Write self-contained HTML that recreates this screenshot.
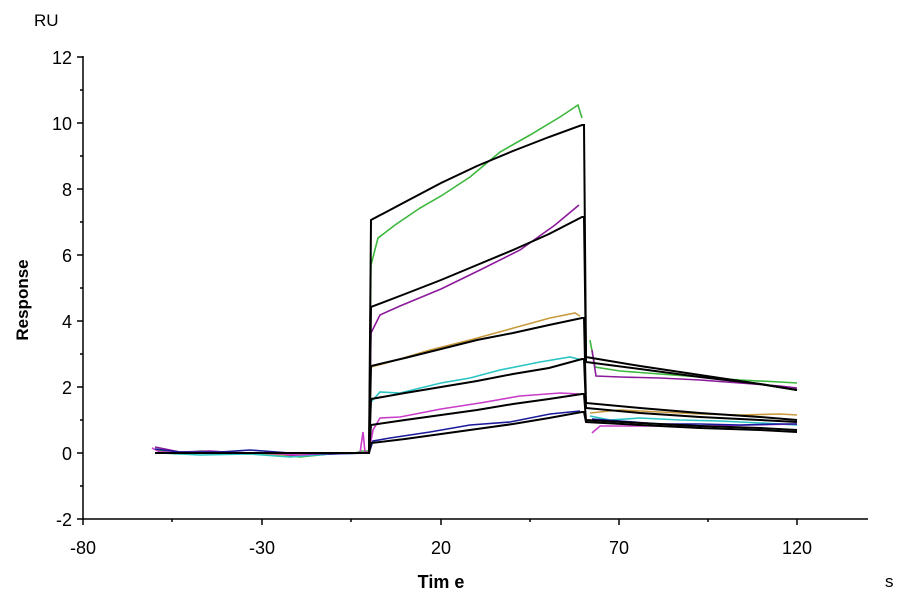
<!DOCTYPE html>
<html><head><meta charset="utf-8"><style>
html,body{margin:0;padding:0;background:#fff;}
svg{display:block;font-family:"Liberation Sans",Arial,sans-serif;}
</style></head><body>
<svg width="900" height="600" viewBox="0 0 900 600">
<g stroke="#000" stroke-width="1.5" fill="none">
<line x1="83" y1="56" x2="83" y2="520"/>
<line x1="83" y1="519" x2="868" y2="519"/>
<line x1="77" y1="57" x2="83" y2="57"/><line x1="80" y1="90" x2="83" y2="90"/>
<line x1="77" y1="123" x2="83" y2="123"/><line x1="80" y1="156" x2="83" y2="156"/>
<line x1="77" y1="189" x2="83" y2="189"/><line x1="80" y1="222" x2="83" y2="222"/>
<line x1="77" y1="255" x2="83" y2="255"/><line x1="80" y1="288" x2="83" y2="288"/>
<line x1="77" y1="321" x2="83" y2="321"/><line x1="80" y1="354" x2="83" y2="354"/>
<line x1="77" y1="387" x2="83" y2="387"/><line x1="80" y1="420" x2="83" y2="420"/>
<line x1="77" y1="453" x2="83" y2="453"/><line x1="80" y1="486" x2="83" y2="486"/>
<line x1="77" y1="519" x2="83" y2="519"/>
<line x1="83" y1="519" x2="83" y2="525"/><line x1="172" y1="519" x2="172" y2="522"/>
<line x1="262" y1="519" x2="262" y2="525"/><line x1="351" y1="519" x2="351" y2="522"/>
<line x1="441" y1="519" x2="441" y2="525"/><line x1="530" y1="519" x2="530" y2="522"/>
<line x1="619" y1="519" x2="619" y2="525"/><line x1="708" y1="519" x2="708" y2="522"/>
<line x1="797" y1="519" x2="797" y2="525"/>
</g>
<g font-size="18" fill="#000" text-anchor="end">
<text x="72" y="64">12</text><text x="72" y="130">10</text><text x="72" y="196">8</text>
<text x="72" y="262">6</text><text x="72" y="328">4</text><text x="72" y="394">2</text>
<text x="72" y="460">0</text><text x="72" y="526">-2</text>
</g>
<g font-size="18" fill="#000" text-anchor="middle">
<text x="83" y="554">-80</text><text x="262" y="554">-30</text><text x="441" y="554">20</text>
<text x="619" y="554">70</text><text x="797" y="554">120</text>
</g>
<text x="34" y="26" font-size="17">RU</text>
<text x="885" y="587" font-size="17">s</text>
<text x="441" y="588" font-size="18" font-weight="bold" text-anchor="middle">Tim e</text>
<text transform="translate(28,300) rotate(-90)" font-size="17" font-weight="bold" text-anchor="middle">Response</text>

<g fill="none" stroke-width="1.6">
<polyline stroke="#3cb83c" points="155,449 175,454 200,451 225,452 250,453 275,454 300,457 330,454 355,453 362,451 369,451 371,265 378,238 395,225 420,208 441,196 470,177 500,152 530,135 560,117 578,105 582,118"/>
<polyline stroke="#3cb83c" points="590,340 595,367 620,371 660,374 700,377 740,380 780,382 797,383"/>
<polyline stroke="#8b1a9b" points="155,447 180,452 210,451 240,453 270,454 300,456 330,454 360,453 369,452 371,333 380,315 400,306 441,289 480,270 520,250 555,225 579,205"/>
<polyline stroke="#8b1a9b" points="592,350 596,376 620,377 660,378 700,380 740,383 780,386 797,388"/>
<polyline stroke="#c89a3c" points="160,452 220,453 280,455 340,453 369,453 371,367 390,362 430,350 470,340 510,329 550,318 575,313 580,316"/>
<polyline stroke="#c89a3c" points="590,413 620,410 660,412 700,414 740,415 780,414 797,415"/>
<polyline stroke="#29c4c4" points="160,453 200,455 250,454 290,457 330,454 369,453 371,402 380,392 400,393 441,383 470,378 500,370 540,362 570,357 582,360"/>
<polyline stroke="#29c4c4" points="590,416 610,420 640,418 680,420 720,421 760,423 797,425"/>
<polyline stroke="#c93cc9" points="152,448 160,452 200,452 260,453 300,455 340,453 360,453 363,432 365,452 369,452 373,430 380,418 400,417 441,409 480,403 520,396 560,393 580,394"/>
<polyline stroke="#c93cc9" points="592,433 600,426 630,426 670,426 710,426 750,425 797,424"/>
<polyline stroke="#1a1a9b" points="155,449 180,452 220,452 250,450 290,453 330,454 369,453 373,441 390,438 430,432 470,425 510,422 550,414 580,411"/>
<polyline stroke="#1a1a9b" points="592,419 620,421 660,424 700,424 740,425 780,424 797,424"/>
</g>
<g fill="none" stroke="#000" stroke-width="2">
<polyline points="155,453 369,453 371,220 405,202 441,183 477,166 513,151 549,137 582,125 584,125 586,357 640,366 700,375 760,384 797,390"/>
<polyline points="369,453 371,307 405,294 441,280 477,265 513,250 549,234 582,217 584,217 586,362 640,369 700,377 760,384 797,390"/>
<polyline points="369,453 371,366 405,358 441,349 477,340 513,333 549,325 582,318 584,318 586,403 640,408 700,413 760,417 797,420"/>
<polyline points="369,453 371,399 405,393 441,387 477,381 513,374 549,368 582,359 584,359 586,408 640,413 700,417 760,420 797,422"/>
<polyline points="369,453 371,425 405,420 441,415 477,410 513,404 549,399 582,394 584,394 586,420 640,423 700,426 760,428 797,430"/>
<polyline points="369,453 371,443 405,439 441,434 477,429 513,424 549,418 582,412 584,412 586,422 640,425 700,428 760,430 797,432"/>
</g>
</svg>
</body></html>
